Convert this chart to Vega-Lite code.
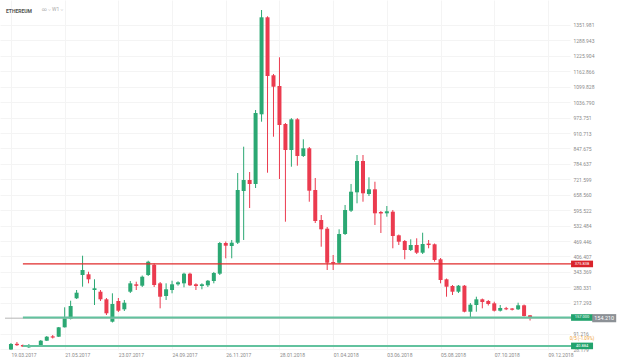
{
  "$schema": "https://vega.github.io/schema/vega-lite/v6.json",
  "width": 570,
  "height": 350,
  "autosize": "none",
  "padding": {"left": 0, "top": 0, "right": 58, "bottom": 13},
  "background": "#ffffff",
  "config": {"view": {"stroke": null}, "font": "Roboto"},
  "title": {"text": "ETHEREUM", "anchor": "start", "frame": "group", "dx": 6, "offset": -14, "fontSize": 5, "fontWeight": "bold", "color": "#555555"},
  "datasets": {
    "candles": [
      {"date": "2017-03-19", "open": 26.2, "high": 52.8, "low": 25.0, "close": 48.7},
      {"date": "2017-03-26", "open": 49.5, "high": 56.9, "low": 40.5, "close": 44.0},
      {"date": "2017-04-02", "open": 44.6, "high": 46.6, "low": 36.4, "close": 38.5},
      {"date": "2017-04-09", "open": 35.2, "high": 48.7, "low": 32.3, "close": 43.4},
      {"date": "2017-04-16", "open": 43.0, "high": 44.6, "low": 36.4, "close": 38.0},
      {"date": "2017-04-23", "open": 40.5, "high": 65.0, "low": 38.5, "close": 62.2},
      {"date": "2017-04-30", "open": 62.2, "high": 81.3, "low": 60.9, "close": 78.5},
      {"date": "2017-05-07", "open": 80.0, "high": 85.4, "low": 71.2, "close": 75.0},
      {"date": "2017-05-14", "open": 78.5, "high": 118.2, "low": 77.3, "close": 116.9},
      {"date": "2017-05-21", "open": 116.9, "high": 198.6, "low": 116.1, "close": 157.9},
      {"date": "2017-05-28", "open": 151.0, "high": 225.6, "low": 149.0, "close": 203.9},
      {"date": "2017-06-04", "open": 235.4, "high": 269.3, "low": 232.5, "close": 258.3},
      {"date": "2017-06-11", "open": 330.6, "high": 409.4, "low": 282.8, "close": 351.0},
      {"date": "2017-06-18", "open": 333.5, "high": 344.0, "low": 296.6, "close": 313.0},
      {"date": "2017-06-25", "open": 269.3, "high": 313.0, "low": 208.0, "close": 276.3},
      {"date": "2017-07-02", "open": 262.4, "high": 269.3, "low": 224.4, "close": 231.3},
      {"date": "2017-07-09", "open": 231.3, "high": 236.6, "low": 167.2, "close": 174.1},
      {"date": "2017-07-16", "open": 139.8, "high": 255.8, "low": 136.5, "close": 212.1},
      {"date": "2017-07-23", "open": 224.4, "high": 236.6, "low": 179.4, "close": 184.7},
      {"date": "2017-07-30", "open": 190.4, "high": 228.5, "low": 183.5, "close": 217.4},
      {"date": "2017-08-06", "open": 262.4, "high": 306.0, "low": 257.0, "close": 296.6},
      {"date": "2017-08-13", "open": 292.5, "high": 303.2, "low": 269.3, "close": 286.5},
      {"date": "2017-08-20", "open": 286.9, "high": 328.5, "low": 281.6, "close": 323.6},
      {"date": "2017-08-27", "open": 330.6, "high": 389.0, "low": 326.5, "close": 384.9},
      {"date": "2017-09-03", "open": 372.0, "high": 378.0, "low": 281.6, "close": 289.7},
      {"date": "2017-09-10", "open": 296.6, "high": 302.0, "low": 194.5, "close": 241.9},
      {"date": "2017-09-17", "open": 244.8, "high": 296.6, "low": 228.5, "close": 272.2},
      {"date": "2017-09-24", "open": 269.3, "high": 307.3, "low": 255.8, "close": 292.6},
      {"date": "2017-10-01", "open": 292.6, "high": 304.8, "low": 286.9, "close": 300.8},
      {"date": "2017-10-08", "open": 296.6, "high": 340.0, "low": 280.3, "close": 335.9},
      {"date": "2017-10-15", "open": 335.9, "high": 340.0, "low": 285.6, "close": 288.5},
      {"date": "2017-10-22", "open": 292.6, "high": 296.6, "low": 269.3, "close": 285.6},
      {"date": "2017-10-29", "open": 285.6, "high": 296.6, "low": 272.2, "close": 292.6},
      {"date": "2017-11-05", "open": 288.5, "high": 310.2, "low": 281.6, "close": 307.3},
      {"date": "2017-11-12", "open": 306.1, "high": 343.0, "low": 296.6, "close": 338.8},
      {"date": "2017-11-19", "open": 335.9, "high": 465.5, "low": 330.6, "close": 461.4},
      {"date": "2017-11-26", "open": 461.4, "high": 467.5, "low": 398.8, "close": 450.3},
      {"date": "2017-12-03", "open": 449.1, "high": 473.6, "low": 398.8, "close": 462.6},
      {"date": "2017-12-10", "open": 462.6, "high": 747.3, "low": 457.2, "close": 677.8},
      {"date": "2017-12-17", "open": 673.8, "high": 854.8, "low": 473.6, "close": 718.7},
      {"date": "2017-12-24", "open": 718.7, "high": 751.4, "low": 604.3, "close": 702.4},
      {"date": "2017-12-31", "open": 702.4, "high": 1004.7, "low": 686.0, "close": 992.4},
      {"date": "2018-01-07", "open": 987.1, "high": 1413.2, "low": 956.9, "close": 1383.4},
      {"date": "2018-01-14", "open": 1383.4, "high": 1387.5, "low": 748.5, "close": 1143.6},
      {"date": "2018-01-21", "open": 1146.5, "high": 1151.8, "low": 895.6, "close": 1099.9},
      {"date": "2018-01-28", "open": 1102.7, "high": 1220.0, "low": 722.8, "close": 943.4},
      {"date": "2018-02-04", "open": 947.5, "high": 951.6, "low": 548.4, "close": 841.3},
      {"date": "2018-02-11", "open": 841.3, "high": 971.5, "low": 773.0, "close": 966.7},
      {"date": "2018-02-18", "open": 966.7, "high": 971.5, "low": 777.1, "close": 816.8},
      {"date": "2018-02-25", "open": 816.8, "high": 885.0, "low": 812.7, "close": 848.2},
      {"date": "2018-03-04", "open": 848.2, "high": 853.5, "low": 630.0, "close": 675.0},
      {"date": "2018-03-11", "open": 677.8, "high": 726.9, "low": 543.0, "close": 551.2},
      {"date": "2018-03-18", "open": 555.3, "high": 575.7, "low": 446.2, "close": 517.3},
      {"date": "2018-03-25", "open": 519.8, "high": 526.7, "low": 351.0, "close": 380.8},
      {"date": "2018-04-01", "open": 383.7, "high": 412.3, "low": 351.0, "close": 378.4},
      {"date": "2018-04-08", "open": 380.8, "high": 517.3, "low": 375.5, "close": 498.1},
      {"date": "2018-04-15", "open": 498.1, "high": 616.6, "low": 494.0, "close": 596.2},
      {"date": "2018-04-22", "open": 593.3, "high": 702.4, "low": 588.0, "close": 670.9},
      {"date": "2018-04-29", "open": 668.4, "high": 820.8, "low": 623.5, "close": 796.3},
      {"date": "2018-05-06", "open": 796.3, "high": 820.8, "low": 630.0, "close": 664.4},
      {"date": "2018-05-13", "open": 661.5, "high": 729.7, "low": 653.3, "close": 680.7},
      {"date": "2018-05-20", "open": 680.7, "high": 711.7, "low": 534.9, "close": 582.7},
      {"date": "2018-05-27", "open": 588.0, "high": 592.1, "low": 502.2, "close": 582.0},
      {"date": "2018-06-03", "open": 582.7, "high": 612.5, "low": 568.8, "close": 590.9},
      {"date": "2018-06-10", "open": 589.2, "high": 596.2, "low": 439.7, "close": 489.9},
      {"date": "2018-06-17", "open": 492.8, "high": 496.0, "low": 453.2, "close": 466.6},
      {"date": "2018-06-24", "open": 469.5, "high": 473.6, "low": 394.7, "close": 432.7},
      {"date": "2018-07-01", "open": 432.7, "high": 476.4, "low": 428.6, "close": 453.2},
      {"date": "2018-07-08", "open": 453.2, "high": 480.5, "low": 416.4, "close": 421.7},
      {"date": "2018-07-15", "open": 421.7, "high": 503.4, "low": 416.4, "close": 457.2},
      {"date": "2018-07-22", "open": 459.0, "high": 473.6, "low": 439.7, "close": 453.0},
      {"date": "2018-07-29", "open": 456.1, "high": 459.3, "low": 384.9, "close": 391.9},
      {"date": "2018-08-05", "open": 394.7, "high": 400.0, "low": 296.6, "close": 310.2},
      {"date": "2018-08-12", "open": 313.0, "high": 316.3, "low": 241.9, "close": 282.8},
      {"date": "2018-08-19", "open": 285.6, "high": 289.7, "low": 248.9, "close": 262.4},
      {"date": "2018-08-26", "open": 262.4, "high": 289.7, "low": 257.0, "close": 286.9},
      {"date": "2018-09-02", "open": 286.9, "high": 289.7, "low": 178.1, "close": 180.6},
      {"date": "2018-09-09", "open": 180.6, "high": 216.1, "low": 153.7, "close": 209.3},
      {"date": "2018-09-16", "open": 208.0, "high": 241.9, "low": 180.6, "close": 231.3},
      {"date": "2018-09-23", "open": 231.3, "high": 234.4, "low": 194.5, "close": 220.3},
      {"date": "2018-09-30", "open": 224.4, "high": 228.5, "low": 206.0, "close": 212.1},
      {"date": "2018-10-07", "open": 214.9, "high": 221.5, "low": 181.4, "close": 184.7},
      {"date": "2018-10-14", "open": 184.7, "high": 208.0, "low": 181.4, "close": 195.8},
      {"date": "2018-10-21", "open": 195.0, "high": 200.3, "low": 187.2, "close": 190.5},
      {"date": "2018-10-28", "open": 193.5, "high": 195.8, "low": 185.6, "close": 189.0},
      {"date": "2018-11-04", "open": 190.4, "high": 217.4, "low": 187.6, "close": 206.8},
      {"date": "2018-11-11", "open": 206.8, "high": 210.0, "low": 161.0, "close": 163.1},
      {"date": "2018-11-18", "open": 165.9, "high": 167.2, "low": 144.7, "close": 154.21}
    ]
  },
  "layer": [
    {
      "data": {"name": "candles"},
      "mark": {"type": "rule", "strokeWidth": 1},
      "encoding": {
        "x": {
          "field": "date", "type": "temporal",
          "scale": {"type": "utc", "domain": [{"year": 2017, "month": 3, "date": 12, "utc": true}, {"year": 2018, "month": 12, "date": 29, "utc": true}]},
          "axis": {
            "title": null,
            "values": [
              {"year": 2017, "month": 3, "date": 19, "utc": true},
              {"year": 2017, "month": 5, "date": 21, "utc": true},
              {"year": 2017, "month": 7, "date": 23, "utc": true},
              {"year": 2017, "month": 9, "date": 24, "utc": true},
              {"year": 2017, "month": 11, "date": 26, "utc": true},
              {"year": 2018, "month": 1, "date": 28, "utc": true},
              {"year": 2018, "month": 4, "date": 1, "utc": true},
              {"year": 2018, "month": 6, "date": 3, "utc": true},
              {"year": 2018, "month": 8, "date": 5, "utc": true},
              {"year": 2018, "month": 10, "date": 7, "utc": true},
              {"year": 2018, "month": 12, "date": 9, "utc": true}
            ],
            "tickCount": 50,
            "format": "%d.%m.%Y",
            "labelAlign": "left",
            "labelFontSize": 5,
            "labelColor": "#8a8a8a",
            "labelPadding": 2,
            "labelOverlap": false,
            "labelFlush": false,
            "ticks": false,
            "domain": false,
            "grid": true,
            "gridColor": "#f4f4f4",
            "gridWidth": 1
          }
        },
        "y": {
          "field": "low", "type": "quantitative",
          "scale": {"domain": [24.2, 1454.1], "zero": false, "nice": false},
          "axis": {
            "title": null,
            "orient": "right",
            "values": [28.179, 91.216, 217.293, 280.331, 343.369, 406.407, 469.446, 532.484, 595.522, 658.56, 721.599, 784.637, 847.675, 910.713, 973.751, 1036.79, 1099.828, 1162.866, 1225.904, 1288.943, 1351.981],
            "tickCount": 50,
            "format": ".3f",
            "labelFontSize": 5,
            "labelColor": "#8a8a8a",
            "labelPadding": 3,
            "labelAlign": "left",
            "labelOverlap": false,
            "labelFlush": false,
            "ticks": false,
            "domain": false,
            "grid": true,
            "gridColor": "#f4f4f4",
            "gridWidth": 1
          }
        },
        "y2": {"field": "high"},
        "color": {"condition": {"test": "datum.close >= datum.open", "value": "#2ba873"}, "value": "#eb3b4f"}
      }
    },
    {
      "data": {"name": "candles"},
      "mark": {"type": "bar", "size": 4},
      "encoding": {
        "x": {"field": "date", "type": "temporal"},
        "y": {"field": "open", "type": "quantitative"},
        "y2": {"field": "close"},
        "color": {"condition": {"test": "datum.close >= datum.open", "value": "#2ba873"}, "value": "#eb3b4f"}
      }
    },
    {
      "data": {"values": [{"date": "2017-03-12", "end": "2019-01-06", "price": 154.21}]},
      "mark": {"type": "rule", "color": "#b5b5b5", "strokeWidth": 1},
      "encoding": {"x": {"field": "date", "type": "temporal"}, "x2": {"field": "end"}, "y": {"field": "price", "type": "quantitative"}}
    },
    {
      "data": {"values": [{"date": "2017-04-02", "end": "2019-01-06", "price": 375.838}]},
      "mark": {"type": "rule", "color": "#e02b2b", "strokeWidth": 1.2},
      "encoding": {"x": {"field": "date", "type": "temporal"}, "x2": {"field": "end"}, "y": {"field": "price", "type": "quantitative"}}
    },
    {
      "data": {"values": [{"date": "2017-04-02", "end": "2019-01-06", "price": 157.0}, {"date": "2017-04-02", "end": "2019-01-06", "price": 40.884}]},
      "mark": {"type": "rule", "color": "#62c29e", "strokeWidth": 2},
      "encoding": {"x": {"field": "date", "type": "temporal"}, "x2": {"field": "end"}, "y": {"field": "price", "type": "quantitative"}}
    },
    {
      "data": {"values": [{"date": "2019-01-18", "price": 375.838}]},
      "mark": {"type": "point", "shape": "M-1,-0.3H1V0.3H-1Z", "size": 484, "filled": true, "color": "#d9232b", "opacity": 1},
      "encoding": {"x": {"field": "date", "type": "temporal"}, "y": {"field": "price", "type": "quantitative"}}
    },
    {
      "data": {"values": [{"date": "2019-01-18", "price": 157.0}, {"date": "2019-01-18", "price": 40.884}]},
      "mark": {"type": "point", "shape": "M-1,-0.3H1V0.3H-1Z", "size": 484, "filled": true, "color": "#22a36d", "opacity": 1},
      "encoding": {"x": {"field": "date", "type": "temporal"}, "y": {"field": "price", "type": "quantitative"}}
    },
    {
      "data": {"values": [{"date": "2019-02-13", "price": 154.21}]},
      "mark": {"type": "point", "shape": "M-1,-0.34H1V0.34H-1Z", "size": 576, "filled": true, "color": "#8c9196", "opacity": 1},
      "encoding": {"x": {"field": "date", "type": "temporal"}, "y": {"field": "price", "type": "quantitative"}}
    },
    {
      "data": {"values": [{"date": "2019-01-18", "price": 375.838, "label": "375.838"}, {"date": "2019-01-18", "price": 157.0, "label": "157.000"}, {"date": "2019-01-18", "price": 40.884, "label": "40.884"}]},
      "mark": {"type": "text", "color": "#ffffff", "fontSize": 4, "align": "center", "baseline": "middle"},
      "encoding": {"x": {"field": "date", "type": "temporal"}, "y": {"field": "price", "type": "quantitative"}, "text": {"field": "label"}}
    },
    {
      "data": {"values": [{"date": "2019-02-13", "price": 154.21, "label": "154.210"}]},
      "mark": {"type": "text", "color": "#ffffff", "fontSize": 5.5, "align": "center", "baseline": "middle"},
      "encoding": {"x": {"field": "date", "type": "temporal"}, "y": {"field": "price", "type": "quantitative"}, "text": {"field": "label"}}
    },
    {
      "data": {"values": [{"date": "2019-01-18", "price": 40.884, "label": "0/5 (-1.09%)"}]},
      "mark": {"type": "text", "color": "#f0a232", "fontSize": 4.5, "align": "center", "baseline": "middle", "dy": -6.5},
      "encoding": {"x": {"field": "date", "type": "temporal"}, "y": {"field": "price", "type": "quantitative"}, "text": {"field": "label"}}
    },
    {
      "data": {"values": [{"date": "2017-04-24", "price": 1417, "label": "∞ ˅   W1 ˅"}]},
      "mark": {"type": "text", "color": "#a8a8a8", "fontSize": 5, "align": "left", "baseline": "middle"},
      "encoding": {"x": {"field": "date", "type": "temporal"}, "y": {"field": "price", "type": "quantitative"}, "text": {"field": "label"}}
    }
  ]
}
